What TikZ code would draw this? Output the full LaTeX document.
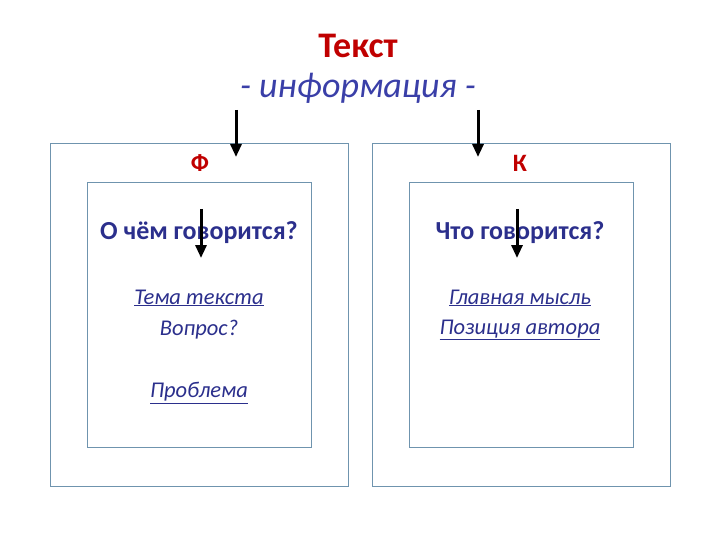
\documentclass[tikz,border=0pt]{standalone}
\usepackage{fontspec}
\setmainfont{Carlito}
\usetikzlibrary{arrows.meta}
\definecolor{tblue}{HTML}{2B2F8C}
\definecolor{tred}{HTML}{C00000}
\definecolor{bline}{HTML}{6F94AE}
\definecolor{ititle}{HTML}{3A3FA8}
\tikzset{
 box/.style={draw=bline,line width=0.8pt},
 arr/.style={-{Triangle[length=13pt,width=11pt]},line width=3pt,black},
 lbl/.style={text=tred,font=\bfseries\fontsize{25}{28}\selectfont,anchor=center},
 q/.style={text=tblue,font=\bfseries\fontsize{26}{28}\selectfont,anchor=center},
 it/.style={text=tblue,font=\itshape\fontsize{22.5}{25}\selectfont,anchor=center},
}
\begin{document}
\begin{tikzpicture}[x=1pt,y=-1pt]
\path[use as bounding box] (0,0) rectangle (720,540);
\draw[box] (50,143) rectangle (348,486);
\draw[box] (372,143) rectangle (670,486);
\draw[box] (87,182) rectangle (311,447);
\draw[box] (409,182) rectangle (633,447);
\node[text=tred,font=\bfseries\fontsize{36}{40}\selectfont] (t) at (358,46) {Текст};
\node[text=ititle,font=\itshape\fontsize{36}{40}\selectfont] (i) at (358,88) {- информация -};
\coordinate (a1s) at (236,110); \coordinate (a1e) at (236,157);
\coordinate (a2s) at (478,110); \coordinate (a2e) at (478,157);
\coordinate (a3s) at (201,209); \coordinate (a3e) at (201,258);
\coordinate (a4s) at (517,209); \coordinate (a4e) at (517,258);
\node[lbl] (f) at (200,163) {Ф};
\node[lbl] (k) at (520,163) {К};
\node[q] (q1) at (199,233) {О чём говорится?};
\node[q] (q2) at (520,233) {Что говорится?};
\node[it] (t1) at (199,298) {\underline{Тема текста}};
\node[it] (t2) at (199,330) {Вопрос?};
\node[it] (t3) at (199,393) {\underline{Проблема}};
\node[it] (t4) at (520,298) {\underline{Главная мысль}};
\node[it] (t5) at (520,330) {\underline{Позиция автора}};
\draw[arr] (a1s) -- (a1e);
\draw[arr] (a2s) -- (a2e);
\draw[arr] (a3s) -- (a3e);
\draw[arr] (a4s) -- (a4e);
\end{tikzpicture}
\end{document}
